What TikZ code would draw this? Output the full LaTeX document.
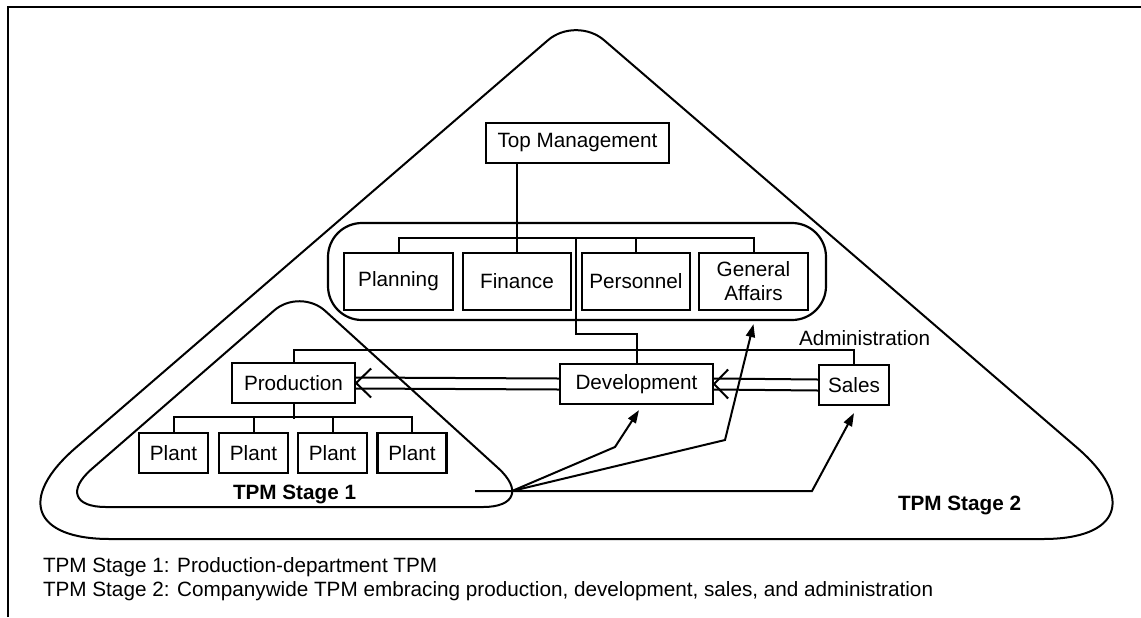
\documentclass[tikz,border=0pt]{standalone}
\usepackage{fontspec}
\setmainfont{Liberation Sans}
\usetikzlibrary{arrows.meta}
\newcommand\dfont{\fontsize{10.35pt}{12pt}\selectfont}
\begin{document}
\begin{tikzpicture}[x=0.5pt,y=-0.5pt,line width=1pt,
  box/.style={draw,line width=1.1pt,inner sep=0pt,align=center,font=\dfont},
  lbl/.style={inner sep=0pt,font=\dfont,anchor=base west},
  arr/.style={-{Triangle[length=6.5pt,width=4.5pt]}}]
\useasboundingbox (0,0) rectangle (1141,617);
% frame (top and left edges)
\draw (8,617) -- (8,7) -- (1141,7);
% TPM Stage 2 triangle
\draw (580,539) [rounded corners=70pt] -- (-30,539) -- (273,277.5)
  [rounded corners=18.5pt] -- (576,16) -- (879.5,277.5)
  [rounded corners=70pt] -- (1183,539) -- cycle;
% TPM Stage 1 triangle
\draw (295,507) [rounded corners=29pt] -- (48,507) -- (174,397.5)
  [rounded corners=17pt] -- (300,288) -- (420.5,397.5)
  [rounded corners=29pt] -- (541,507) -- cycle;
% nodes
\node[box,minimum width=91.5pt,minimum height=20pt] (tm) at (577.5,143) {Top Management};
\node[draw,line width=1.1pt,rounded corners=17pt,minimum width=249pt,minimum height=48.5pt,inner sep=0pt] (admin) at (577,271.5) {};
\node[box,minimum width=54.5pt,minimum height=28.5pt] (plan) at (398.5,281.5) {Planning};
\node[box,minimum width=54pt,minimum height=28.5pt] (fin) at (517,281.5) {Finance};
\node[box,minimum width=54pt,minimum height=28.5pt] (pers) at (636,281.5) {Personnel};
\node[box,minimum width=54.5pt,minimum height=28.5pt] (ga) at (753.5,281.5) {General\\Affairs};
\node[box,minimum width=61.5pt,minimum height=20pt] (prod) at (293.5,383) {Production};
\node[box,minimum width=76.5pt,minimum height=20pt] (dev) at (636.5,384) {Development};
\node[box,minimum width=35pt,minimum height=20pt] (sales) at (854,385) {Sales};
\node[box,minimum width=34.5pt,minimum height=20pt] (p1) at (173.5,453) {Plant};
\node[box,minimum width=34.5pt,minimum height=20pt] (p2) at (253.5,453) {Plant};
\node[box,minimum width=34.5pt,minimum height=20pt] (p3) at (332.5,453) {Plant};
\node[box,minimum width=34.5pt,minimum height=20pt] (p4) at (412,453) {Plant};
% labels
\node[lbl] (adm) at (798,345) {Administration};
\node[lbl,font=\dfont\bfseries] (s1) at (232,499) {TPM Stage 1};
\node[lbl,font=\dfont\bfseries] (s2) at (897,510) {TPM Stage 2};
\node[lbl] (c1) at (42,572) {TPM Stage 1: Production-department TPM};
\node[lbl] (c2) at (42,596) {TPM Stage 2: Companywide TPM embracing production, development, sales, and administration};
% org connectors
\draw (tm.south -| fin.north) -- (fin.north);
\draw (plan.north) -- ++(0,-14) -| (ga.north);
\draw (pers.north) -- ++(0,-14);
\coordinate (bus) at (576,239);
\draw (dev.north) -- ++(0,-29) -| (bus);
\draw (prod.north) -- ++(0,-12) -| (sales.north);
\draw (prod.south) -- ++(0,15);
\draw (p1.north) -- ++(0,-15) -| (p4.north);
\draw (p2.north) -- ++(0,-15);
\draw (p3.north) -- ++(0,-15);
% double arrows
\draw ([yshift=2.75pt]dev.west) -- ([yshift=2.75pt]prod.east);
\draw ([yshift=-2.75pt]dev.west) -- ([yshift=-2.75pt]prod.east);
\draw ([shift={(7.5pt,7.25pt)}]prod.east) -- (prod.east) -- ([shift={(7.5pt,-7.25pt)}]prod.east);
\draw ([yshift=2.75pt]sales.west) -- ([yshift=2.75pt]dev.east);
\draw ([yshift=-2.75pt]sales.west) -- ([yshift=-2.75pt]dev.east);
\draw ([shift={(7pt,7.25pt)}]dev.east) -- (dev.east) -- ([shift={(7pt,-7.25pt)}]dev.east);
% spread arrows
\coordinate (st) at (475,491);
\coordinate (src) at (512,491);
\coordinate (bd) at (615,447);
\coordinate (bg) at (725,440);
\coordinate (bs) at (812,491);
\draw[arr] (st) -- (bs) -- ([yshift=-3.5pt]sales.south);
\draw[arr] (src) -- (bd) -- ([shift={(1.25pt,-2.5pt)}]dev.south);
\draw[arr] (src) -- (bg) -- ([yshift=-6.5pt]ga.south);
\end{tikzpicture}
\end{document}
